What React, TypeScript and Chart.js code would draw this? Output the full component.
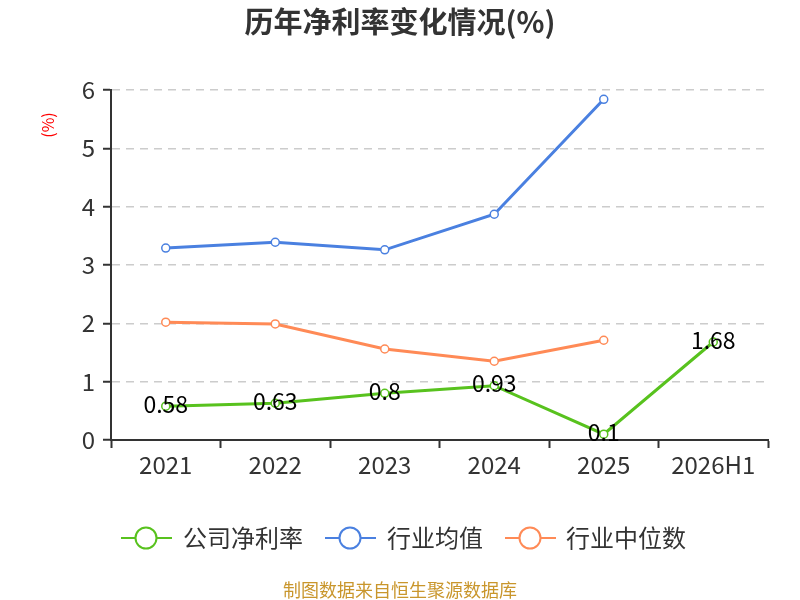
import React, { useEffect, useRef } from "react";
import { Chart, registerables } from "chart.js";

Chart.register(...registerables);

const categories = ["2021", "2022", "2023", "2024", "2025", "2026H1"];
const companyNetMargin = [0.58, 0.63, 0.8, 0.93, 0.1, 1.68];
const industryAverage = [3.29, 3.39, 3.26, 3.87, 5.84, null];
const industryMedian = [2.02, 1.99, 1.56, 1.35, 1.71, null];
const seriesNames = ["公司净利率", "行业均值", "行业中位数"];
const seriesColors = ["#58c21e", "#4a80e0", "#ff8a56"];
const yTicks = [0, 1, 2, 3, 4, 5, 6];

const FONT = '"Noto Sans CJK SC", "Noto Sans", sans-serif';

const decorPlugin = {
  id: "decor",
  afterDatasetsDraw(chart: any) {
    const ctx = chart.ctx;
    const meta = chart.getDatasetMeta(0);
    ctx.save();
    ctx.font = `23px ${FONT}`;
    ctx.fillStyle = "#000";
    ctx.textAlign = "center";
    ctx.textBaseline = "middle";
    meta.data.forEach((pt: any, i: number) => {
      const v = companyNetMargin[i];
      if (v == null) return;
      ctx.fillText(String(v), pt.x, pt.y - 2);
    });
    ctx.restore();
  },
  afterDraw(chart: any) {
    const ctx = chart.ctx;
    ctx.save();
    // title
    ctx.font = `bold 29px ${FONT}`;
    ctx.fillStyle = "#333";
    ctx.textAlign = "center";
    ctx.textBaseline = "middle";
    ctx.fillText("历年净利率变化情况(%)", 400, 22);
    // y unit
    ctx.save();
    ctx.translate(48, 125);
    ctx.rotate(-Math.PI / 2);
    ctx.font = `16px ${FONT}`;
    ctx.fillStyle = "#ff0000";
    ctx.fillText("(%)", 0, 0);
    ctx.restore();
    // legend
    const items = [
      { lx: 121, tx: 183 },
      { lx: 325, tx: 387 },
      { lx: 505, tx: 566 },
    ];
    const ly = 538;
    items.forEach((it, i) => {
      const c = seriesColors[i];
      ctx.strokeStyle = c;
      ctx.lineWidth = 2;
      ctx.beginPath();
      ctx.moveTo(it.lx, ly);
      ctx.lineTo(it.lx + 51, ly);
      ctx.stroke();
      ctx.beginPath();
      ctx.arc(it.lx + 25, ly, 10.5, 0, Math.PI * 2);
      ctx.fillStyle = "#fff";
      ctx.fill();
      ctx.stroke();
      ctx.font = `24px ${FONT}`;
      ctx.fillStyle = "#333";
      ctx.textAlign = "left";
      ctx.textBaseline = "middle";
      ctx.fillText(seriesNames[i], it.tx, ly);
    });
    // source
    ctx.font = `18px ${FONT}`;
    ctx.fillStyle = "#c9962c";
    ctx.textAlign = "center";
    ctx.textBaseline = "middle";
    ctx.fillText("制图数据来自恒生聚源数据库", 400, 590);
    ctx.restore();
  },
};

export default function App() {
  const ref = useRef<HTMLCanvasElement>(null);
  useEffect(() => {
    if (!ref.current) return;
    const mk = (data: (number | null)[], i: number) => ({
      label: seriesNames[i],
      data,
      borderColor: seriesColors[i],
      backgroundColor: "#fff",
      borderWidth: 3,
      pointRadius: 4,
      pointHoverRadius: 4,
      pointBorderWidth: 1.5,
      pointBackgroundColor: "#fff",
      pointBorderColor: seriesColors[i],
      tension: 0,
      spanGaps: false,
    });
    const chart = new Chart(ref.current, {
      type: "line",
      data: {
        labels: categories,
        datasets: [
          mk(companyNetMargin, 0),
          mk(industryAverage, 1),
          mk(industryMedian, 2),
        ],
      },
      options: {
        responsive: false,
        animation: false,
        devicePixelRatio: 1,
        layout: { padding: { top: 90, left: 0, right: 32, bottom: 120 } },
        plugins: {
          legend: { display: false },
          title: { display: false },
          tooltip: { enabled: false },
        },
        scales: {
          x: {
            type: "category",
            offset: true,
            afterFit: (s: any) => {
              s.height = 40;
            },
            grid: {
              display: true,
              offset: true,
              drawOnChartArea: false,
              drawTicks: true,
              tickLength: 8,
              tickColor: "#333",
              tickWidth: 2,
              color: "#333",
            },
            border: { display: true, color: "#333", width: 2 },
            ticks: {
              color: "#333",
              font: { size: 24, family: FONT },
              padding: 2,
              maxRotation: 0,
              autoSkip: false,
            },
          },
          y: {
            min: 0,
            max: 6,
            afterFit: (s: any) => {
              s.width = 111;
            },
            afterBuildTicks: (s: any) => {
              s.ticks = yTicks.map((v) => ({ value: v }));
            },
            grid: {
              color: "#cccccc",
              lineWidth: 1.5,
              drawTicks: true,
              tickLength: 8,
              tickColor: "#333",
              tickWidth: 2,
            },
            border: { display: true, color: "#333", width: 2, dash: [8, 6] },
            ticks: {
              color: "#333",
              font: { size: 24, family: FONT },
              padding: 8,
            },
          },
        },
      },
      plugins: [decorPlugin],
    } as any);
    return () => chart.destroy();
  }, []);
  return (
    <div style={{ position: "absolute", left: 0, top: 0, width: 800, height: 600 }}>
      <canvas ref={ref} width={800} height={600} />
    </div>
  );
}
